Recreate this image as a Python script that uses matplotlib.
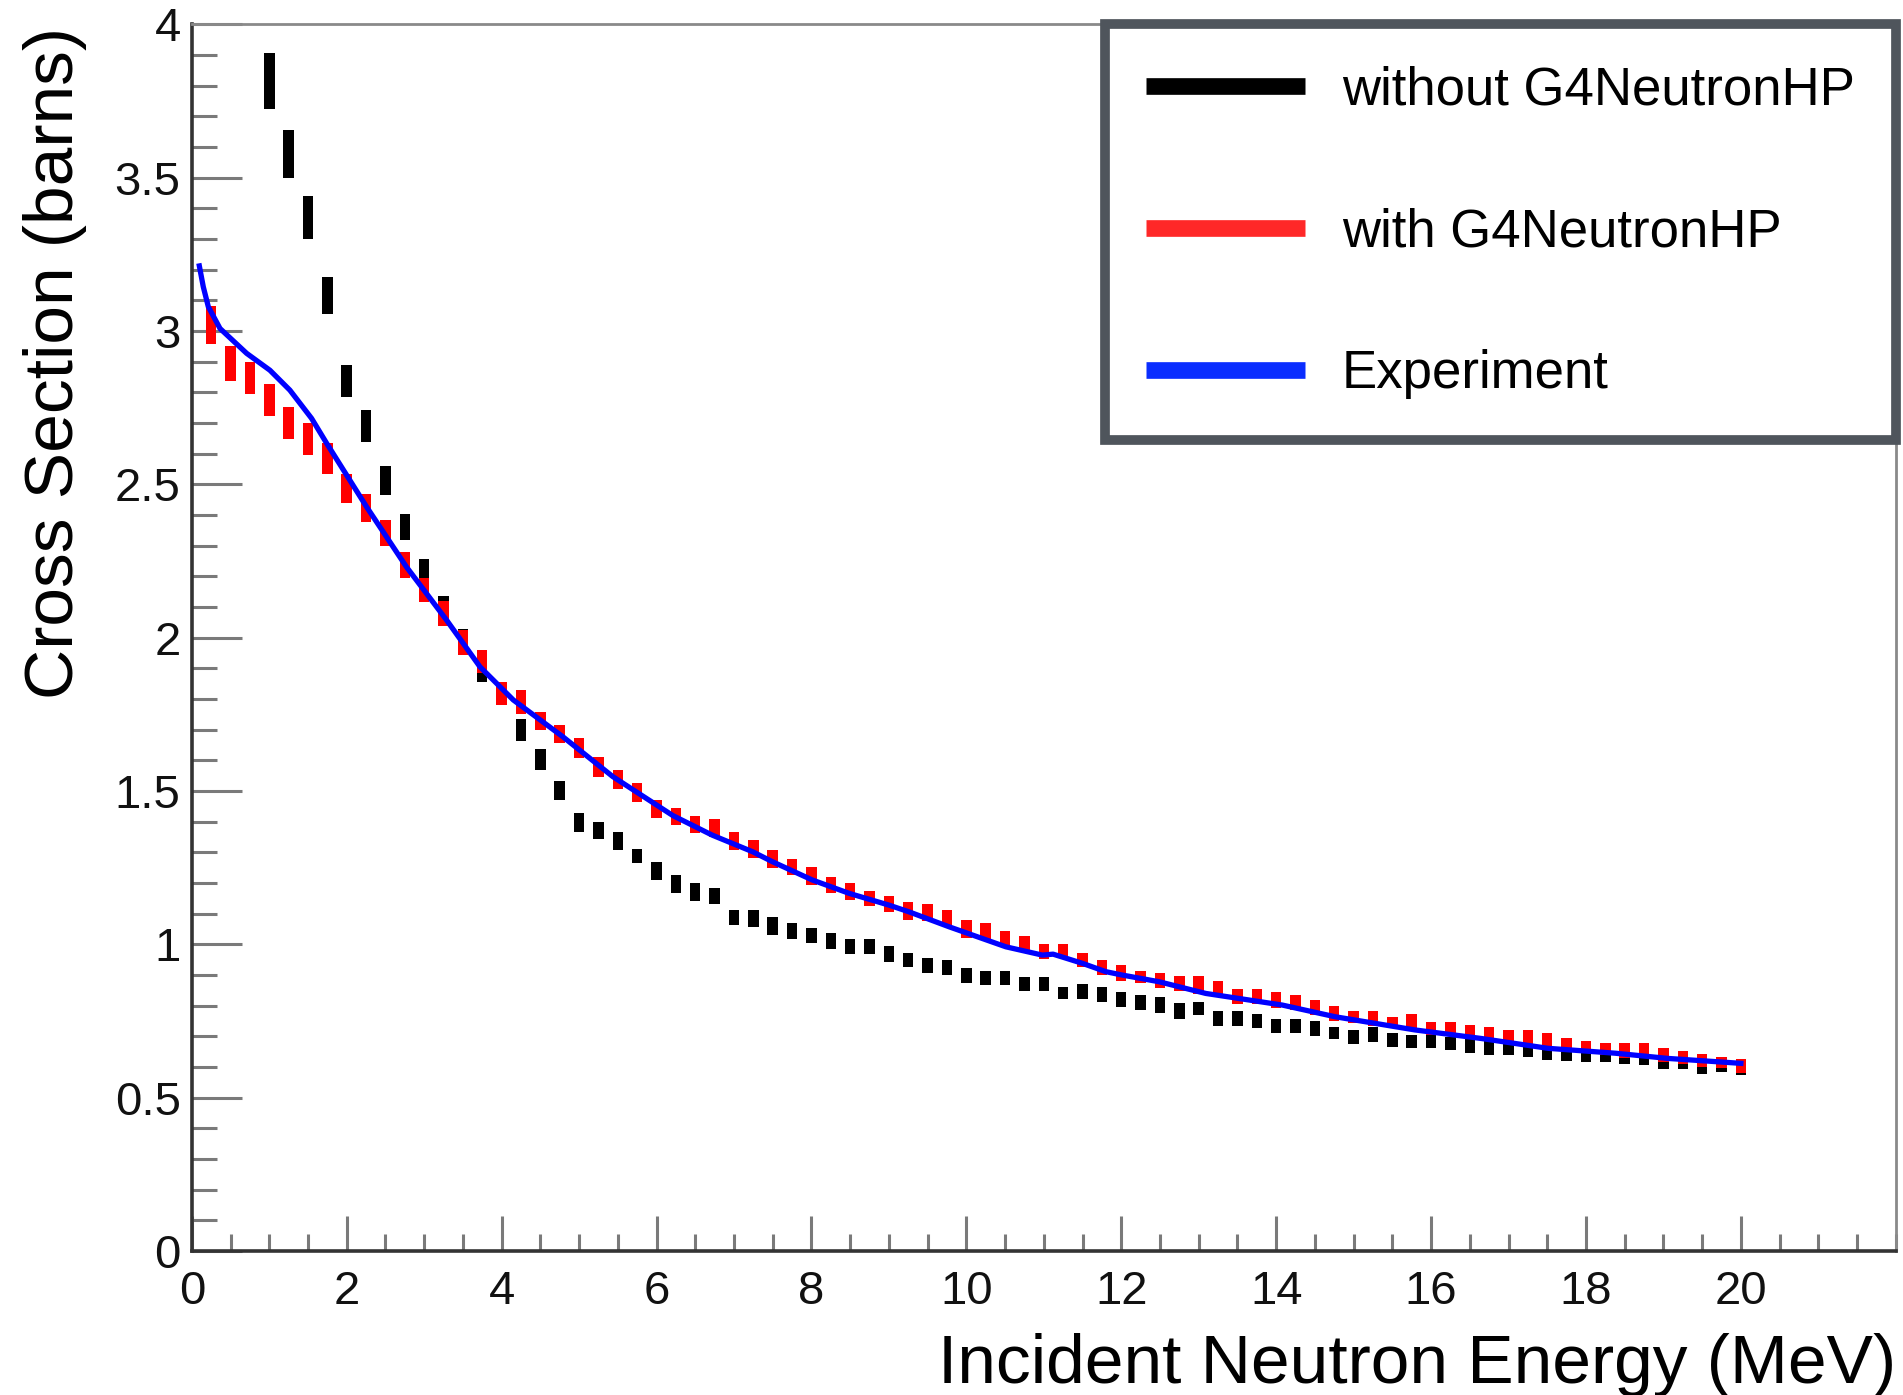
import matplotlib.pyplot as plt
from matplotlib.lines import Line2D
from matplotlib.ticker import MultipleLocator

plt.rcParams['font.family'] = ['Liberation Sans', 'DejaVu Sans']

# simulated total cross section (barns) vs incident neutron energy (MeV)
energy_no_hp = [1.0, 1.25, 1.5, 1.75, 2.0, 2.25, 2.5, 2.75, 3.0, 3.25, 3.5, 3.75,
                4.0, 4.25, 4.5, 4.75, 5.0, 5.25, 5.5, 5.75, 6.0, 6.25, 6.5, 6.75,
                7.0, 7.25, 7.5, 7.75, 8.0, 8.25, 8.5, 8.75, 9.0, 9.25, 9.5, 9.75,
                10.0, 10.25, 10.5, 10.75, 11.0, 11.25, 11.5, 11.75, 12.0, 12.25, 12.5, 12.75,
                13.0, 13.25, 13.5, 13.75, 14.0, 14.25, 14.5, 14.75, 15.0, 15.25, 15.5, 15.75,
                16.0, 16.25, 16.5, 16.75, 17.0, 17.25, 17.5, 17.75, 18.0, 18.25, 18.5, 18.75,
                19.0, 19.25, 19.5, 19.75, 20.0]
xs_no_hp = [3.815, 3.578, 3.37, 3.116, 2.837, 2.69, 2.512, 2.36, 2.22, 2.10, 1.995, 1.89,
            1.81, 1.699, 1.603, 1.502, 1.398, 1.371, 1.337, 1.288, 1.24, 1.197, 1.171, 1.158,
            1.087, 1.085, 1.059, 1.045, 1.028, 1.011, 0.993, 0.993, 0.968, 0.95, 0.931, 0.924,
            0.898, 0.89, 0.89, 0.871, 0.871, 0.842, 0.846, 0.836, 0.821, 0.811, 0.802, 0.784,
            0.79, 0.758, 0.758, 0.75, 0.733, 0.733, 0.725, 0.71, 0.697, 0.707, 0.688, 0.684,
            0.684, 0.677, 0.67, 0.664, 0.662, 0.655, 0.647, 0.64, 0.635, 0.635, 0.63, 0.625,
            0.615, 0.615, 0.60, 0.605, 0.595]
err_no_hp = [0.09, 0.078, 0.07, 0.061, 0.052, 0.052, 0.047, 0.043, 0.035, 0.035, 0.033, 0.033,
             0.03, 0.035, 0.035, 0.03, 0.031, 0.029, 0.03, 0.024, 0.029, 0.029, 0.03, 0.025,
             0.025, 0.027, 0.029, 0.026, 0.025, 0.025, 0.023, 0.023, 0.025, 0.023, 0.024, 0.024,
             0.024, 0.023, 0.023, 0.023, 0.023, 0.02, 0.024, 0.024, 0.025, 0.024, 0.025, 0.026,
             0.021, 0.025, 0.025, 0.024, 0.023, 0.023, 0.024, 0.02, 0.023, 0.025, 0.024, 0.021,
             0.022, 0.022, 0.023, 0.024, 0.022, 0.023, 0.024, 0.02, 0.02, 0.02, 0.021, 0.02,
             0.02, 0.02, 0.024, 0.02, 0.02]

energy_hp = [0.25, 0.5, 0.75, 1.0, 1.25, 1.5, 1.75, 2.0, 2.25, 2.5, 2.75, 3.0, 3.25, 3.5, 3.75,
             4.0, 4.25, 4.5, 4.75, 5.0, 5.25, 5.5, 5.75, 6.0, 6.25, 6.5, 6.75,
             7.0, 7.25, 7.5, 7.75, 8.0, 8.25, 8.5, 8.75, 9.0, 9.25, 9.5, 9.75,
             10.0, 10.25, 10.5, 10.75, 11.0, 11.25, 11.5, 11.75, 12.0, 12.25, 12.5, 12.75,
             13.0, 13.25, 13.5, 13.75, 14.0, 14.25, 14.5, 14.75, 15.0, 15.25, 15.5, 15.75,
             16.0, 16.25, 16.5, 16.75, 17.0, 17.25, 17.5, 17.75, 18.0, 18.25, 18.5, 18.75,
             19.0, 19.25, 19.5, 19.75, 20.0]
xs_hp = [3.02, 2.894, 2.847, 2.776, 2.699, 2.647, 2.585, 2.486, 2.424, 2.342, 2.237, 2.155,
         2.078, 1.984, 1.922, 1.818, 1.79, 1.729, 1.685, 1.639, 1.579, 1.538, 1.495,
         1.442, 1.416, 1.39, 1.38, 1.337, 1.31, 1.277, 1.252, 1.223, 1.192, 1.172, 1.15,
         1.131, 1.11, 1.104, 1.084, 1.05, 1.043, 1.018, 1.0, 0.976, 0.978, 0.949, 0.924,
         0.907, 0.894, 0.882, 0.873, 0.868, 0.855, 0.829, 0.829, 0.82, 0.811, 0.794, 0.775,
         0.763, 0.758, 0.745, 0.748, 0.726, 0.726, 0.715, 0.707, 0.699, 0.698, 0.689, 0.672,
         0.666, 0.658, 0.653, 0.653, 0.639, 0.632, 0.622, 0.615, 0.602]
err_hp = [0.062, 0.057, 0.053, 0.052, 0.052, 0.052, 0.051, 0.048, 0.046, 0.043, 0.043, 0.038,
          0.04, 0.041, 0.038, 0.038, 0.038, 0.03, 0.03, 0.033, 0.033, 0.03, 0.03,
          0.029, 0.027, 0.028, 0.029, 0.03, 0.03, 0.029, 0.026, 0.03, 0.026, 0.028, 0.025,
          0.026, 0.029, 0.027, 0.028, 0.029, 0.028, 0.026, 0.026, 0.025, 0.024, 0.024, 0.025,
          0.025, 0.02, 0.025, 0.024, 0.03, 0.026, 0.024, 0.024, 0.026, 0.024, 0.024, 0.025,
          0.021, 0.025, 0.019, 0.025, 0.022, 0.022, 0.022, 0.022, 0.022, 0.022, 0.023, 0.022,
          0.02, 0.019, 0.024, 0.024, 0.022, 0.021, 0.021, 0.019, 0.023]

# measured curve
energy_exp = [0.097, 0.148, 0.213, 0.364, 0.708, 1.008, 1.266, 1.546, 1.74, 2.255, 2.77,
              3.29, 3.72, 4.15, 4.79, 5.435, 6.21, 6.72, 7.24, 7.5, 8.01, 8.49, 9.0, 9.26,
              9.78, 10.51, 10.98, 11.12, 11.5, 11.8, 12.01, 12.49, 13.09, 14.08, 14.76,
              15.79, 16.65, 17.51, 18.38, 19.06, 20.0]
xs_exp = [3.212, 3.144, 3.079, 3.008, 2.927, 2.872, 2.807, 2.715, 2.634, 2.427, 2.231,
          2.057, 1.905, 1.797, 1.677, 1.547, 1.42, 1.356, 1.302, 1.269, 1.21, 1.166, 1.128, 1.106,
          1.057, 0.992, 0.965, 0.968, 0.938, 0.911, 0.90, 0.878, 0.84, 0.802, 0.764,
          0.721, 0.693, 0.661, 0.645, 0.628, 0.612]

y_ticks = [0, 0.5, 1, 1.5, 2, 2.5, 3, 3.5, 4]
y_tick_labels = ['0', '0.5', '1', '1.5', '2', '2.5', '3', '3.5', '4']
x_ticks = [0, 2, 4, 6, 8, 10, 12, 14, 16, 18, 20]
x_tick_labels = ['0', '2', '4', '6', '8', '10', '12', '14', '16', '18', '20']

fig = plt.figure(figsize=(19.03, 13.95), dpi=100)
ax = fig.add_axes([0.1008, 0.1032, 0.8954, 0.8794])

bin_w = 0.135
ax.bar(energy_no_hp, [2 * e for e in err_no_hp],
       bottom=[v - e for v, e in zip(xs_no_hp, err_no_hp)],
       width=bin_w, color='black', linewidth=0, zorder=2)
ax.bar(energy_hp, [2 * e for e in err_hp],
       bottom=[v - e for v, e in zip(xs_hp, err_hp)],
       width=bin_w, color='#ff0000', linewidth=0, zorder=3)
ax.plot(energy_exp, xs_exp, color='#0000ff', lw=3.8, zorder=4)

ax.set_xlim(0, 22)
ax.set_ylim(0, 4)
ax.set_xticks(x_ticks)
ax.set_xticklabels(x_tick_labels)
ax.set_yticks(y_ticks)
ax.set_yticklabels(y_tick_labels)
ax.xaxis.set_minor_locator(MultipleLocator(0.5))
ax.yaxis.set_minor_locator(MultipleLocator(0.1))

ax.tick_params(axis='both', which='both', direction='in', color='#7a7a7a', width=2.2,
               labelcolor='#111111')
ax.tick_params(axis='y', which='major', length=36, labelsize=34, pad=8)
ax.tick_params(axis='y', which='minor', length=18)
ax.tick_params(axis='x', which='major', length=25, labelsize=34, pad=14)
ax.tick_params(axis='x', which='minor', length=12)

for side in ['left', 'bottom']:
    ax.spines[side].set_color('#333333')
    ax.spines[side].set_linewidth(2.6)
for side in ['top', 'right']:
    ax.spines[side].set_color('#8a8a8a')
    ax.spines[side].set_linewidth(2.0)

ax.set_xlabel('Incident Neutron Energy (MeV)', fontsize=50, ha='right', va='baseline')
ax.xaxis.set_label_coords(1.0, -0.1076)
ax.set_ylabel('Cross Section (barns)', fontsize=50, ha='right', va='bottom')
ax.yaxis.set_label_coords(-0.0615, 0.998)

handles = [Line2D([], [], color='black', lw=12, solid_capstyle='butt'),
           Line2D([], [], color='#ff2828', lw=12, solid_capstyle='butt'),
           Line2D([], [], color='#0a2dff', lw=12, solid_capstyle='butt')]
labels = ['without G4NeutronHP', 'with G4NeutronHP', 'Experiment']
leg = ax.legend(handles, labels, loc='upper right', bbox_to_anchor=(1.0, 1.0),
                borderaxespad=0, fontsize=38, handlelength=3.0, handletextpad=0.7,
                labelspacing=1.74, borderpad=0.78, fancybox=False, framealpha=1,
                edgecolor='#4f555c')
leg.get_frame().set_linewidth(7)
leg.set_zorder(10)

fig.savefig('out.png', dpi=100)
